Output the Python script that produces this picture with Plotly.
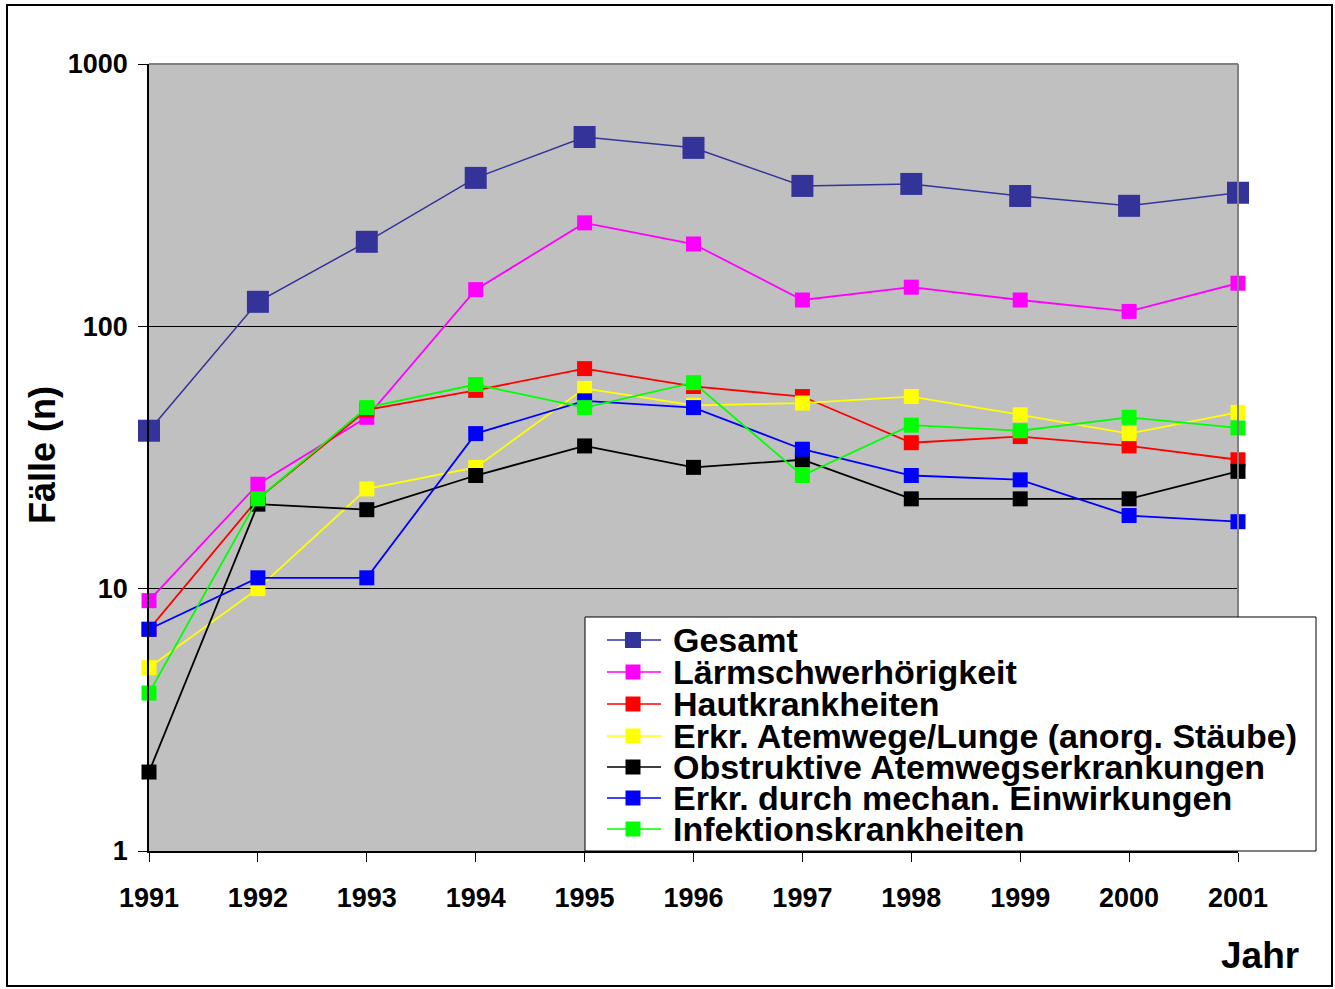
import plotly.graph_objects as go

years = [1991, 1992, 1993, 1994, 1995, 1996, 1997, 1998, 1999, 2000, 2001]

series_names = [
    "Gesamt",
    "Lärmschwerhörigkeit",
    "Hautkrankheiten",
    "Erkr. Atemwege/Lunge (anorg. Stäube)",
    "Obstruktive Atemwegserkrankungen",
    "Erkr. durch mechan. Einwirkungen",
    "Infektionskrankheiten",
]

gesamt = [40, 124, 210, 368, 527, 479, 343, 349, 314, 288, 323]
laerm = [9, 25, 45, 138, 248, 206, 126, 141, 126, 114, 146]
haut = [7, 22, 48, 57, 69, 59, 54, 36, 38, 35, 31]
atemwege = [5, 10, 24, 29, 58, 50, 51, 54, 46, 39, 47]
obstruktiv = [2, 21, 20, 27, 35, 29, 31, 22, 22, 22, 28]
mechan = [7, 11, 11, 39, 52, 49, 34, 27, 26, 19, 18]
infektion = [4, 22, 49, 60, 49, 61, 27, 42, 40, 45, 41]

series_values = [gesamt, laerm, haut, atemwege, obstruktiv, mechan, infektion]
colors = ["#333399", "#FF00FF", "#FF0000", "#FFFF00", "#000000", "#0000FF", "#00FF00"]
marker_sizes = [22, 15, 15, 15, 15, 15, 15]

y_ticks = [1, 10, 100, 1000]
y_ticklabels = ["1", "10", "100", "1000"]

FONT = "Arial, 'Liberation Sans', sans-serif"
W, H = 1335, 989
L, R, T, B = 149, 1238, 64, 851


def px_x(x):
    return (x - L) / (R - L)


def px_y(y):
    return (B - y) / (B - T)


fig = go.Figure()
for name, vals, col, ms in zip(series_names, series_values, colors, marker_sizes):
    fig.add_trace(go.Scatter(
        x=years, y=vals, name=name, mode="lines+markers",
        line=dict(color=col, width=1.8 if ms == 15 else 1.5),
        marker=dict(symbol="square", size=ms, color=col, line=dict(width=0)),
        cliponaxis=False, showlegend=False,
    ))

shapes = []
annotations = []

# outer border
shapes.append(dict(type="rect", xref="paper", yref="paper",
                   x0=px_x(7), x1=px_x(1332), y0=px_y(986), y1=px_y(5),
                   line=dict(color="black", width=2), fillcolor="rgba(0,0,0,0)", layer="above"))
# gray top/right border of plot area
shapes.append(dict(type="line", xref="paper", yref="paper", x0=0, x1=1, y0=1, y1=1,
                   line=dict(color="#808080", width=2)))
shapes.append(dict(type="line", xref="paper", yref="paper", x0=1, x1=1, y0=0, y1=1,
                   line=dict(color="#808080", width=2)))

# custom legend
shapes.append(dict(type="rect", xref="paper", yref="paper",
                   x0=px_x(585), x1=px_x(1316), y0=px_y(851), y1=px_y(617),
                   line=dict(color="black", width=1), fillcolor="white", layer="above"))
row_y = [640, 672, 704, 736, 767, 798, 829]
for name, col, ry, ms in zip(series_names, colors, row_y, marker_sizes):
    shapes.append(dict(type="line", xref="paper", yref="paper",
                       x0=px_x(607), x1=px_x(661), y0=px_y(ry), y1=px_y(ry),
                       line=dict(color=col, width=1.5), layer="above"))
    half = 8 if ms > 15 else 7.5
    shapes.append(dict(type="rect", xref="paper", yref="paper",
                       x0=px_x(633 - half), x1=px_x(633 + half),
                       y0=px_y(ry + half), y1=px_y(ry - half),
                       line=dict(width=0), fillcolor=col, layer="above"))
    annotations.append(dict(xref="paper", yref="paper", x=px_x(671), y=px_y(ry),
                            xanchor="left", yanchor="middle", showarrow=False,
                            text="<b>%s</b>" % name,
                            font=dict(family=FONT, size=34, color="black")))

annotations.append(dict(xref="paper", yref="paper", x=px_x(42), y=px_y(455),
                        xanchor="center", yanchor="middle", showarrow=False, textangle=-90,
                        text="<b>Fälle (n)</b>", font=dict(family=FONT, size=36, color="black")))
annotations.append(dict(xref="paper", yref="paper", x=px_x(1260), y=px_y(955),
                        xanchor="center", yanchor="middle", showarrow=False,
                        text="<b>Jahr</b>", font=dict(family=FONT, size=37, color="black")))

fig.update_layout(
    width=W, height=H,
    margin=dict(l=L, r=W - R, t=T, b=H - B, pad=0),
    paper_bgcolor="white",
    plot_bgcolor="#C0C0C0",
    font=dict(family=FONT, color="black"),
    shapes=shapes,
    annotations=annotations,
    xaxis=dict(
        range=[1991, 2001], tickvals=years, ticktext=["<b>%d</b>" % y for y in years],
        ticks="outside", ticklen=9, tickcolor="black", tickwidth=1,
        ticklabelstandoff=13,
        showline=True, linecolor="black", linewidth=1.5,
        showgrid=False, zeroline=False,
        tickfont=dict(family=FONT, size=27, color="black"),
    ),
    yaxis=dict(
        type="log", range=[0, 3], tickvals=y_ticks,
        ticktext=["<b>%s</b>" % t for t in y_ticklabels],
        ticks="outside", ticklen=9, tickcolor="black", tickwidth=1,
        ticklabelstandoff=5,
        showline=True, linecolor="black", linewidth=1.5,
        showgrid=True, gridcolor="black", gridwidth=1,
        zeroline=False,
        tickfont=dict(family=FONT, size=27, color="black"),
    ),
)

fig.write_html("out.html", config={"displayModeBar": False},
               post_script="document.body.style.margin='0';")
